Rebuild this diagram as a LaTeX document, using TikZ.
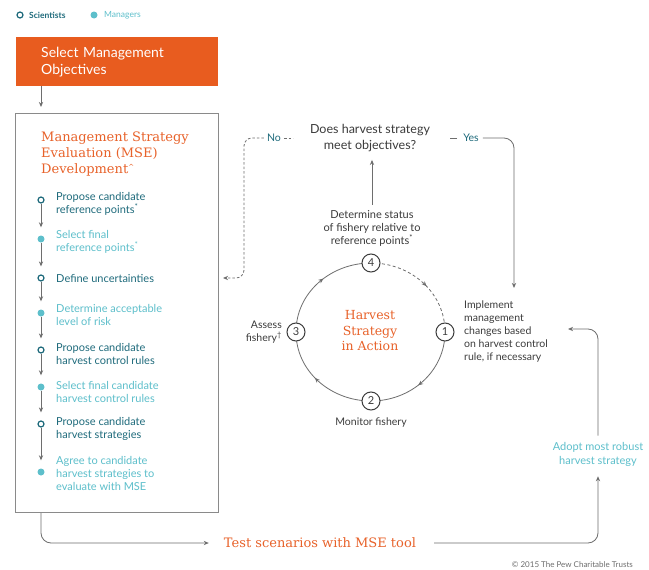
\documentclass[tikz,border=0pt]{standalone}
\usepackage{fontspec}
\setmainfont{Lato}
\newfontfamily\slab{DejaVu Serif}
\usetikzlibrary{arrows.meta,decorations.markings,backgrounds}
\pgfdeclarelayer{paper}
\pgfsetlayers{paper,background,main}
\definecolor{pewor}{HTML}{E85C1F}
\definecolor{titor}{HTML}{E8622A}
\definecolor{dteal}{HTML}{1F6B7C}
\definecolor{lteal}{HTML}{5DBFCB}
\definecolor{lgray}{HTML}{6E6E6E}
\definecolor{tgray}{HTML}{3C3C3C}
\definecolor{bgray}{HTML}{8A8A8A}
\tikzset{
  x=1pt, y=1pt,
  tip/.style={-{Stealth[length=5pt,width=4.2pt]}},
  ln/.style={draw=lgray, line width=0.8pt},
  arr/.style={ln, tip},
  dline/.style={ln, dash pattern=on 2.5pt off 2pt},
  sci/.style={circle, draw=dteal, line width=1.2pt, fill=white, minimum size=6pt, inner sep=0pt},
  mgr/.style={circle, fill=lteal, minimum size=7pt, inner sep=0pt},
  tl/.style={arr, shorten >=8pt},
  scitxt/.style={anchor=west, text=dteal, align=left, inner sep=0pt, font=\fontsize{11}{13}\selectfont},
  mgrtxt/.style={anchor=west, text=lteal, align=left, inner sep=0pt, font=\fontsize{11}{13}\selectfont},
  gtxt/.style={text=tgray, inner sep=0pt, font=\fontsize{10.5}{13}\selectfont},
  num/.style={circle, draw=tgray, line width=1pt, fill=white, minimum size=18pt, inner sep=0pt, text=tgray, font=\fontsize{11}{13}\selectfont},
  orbox/.style={fill=pewor, text=white, anchor=north west, minimum width=202pt, minimum height=49pt, text width=152pt, inner xsep=25pt, align=left, font=\fontsize{14}{17}\selectfont},
  msebx/.style={draw=bgray, line width=1.2pt, anchor=north west, minimum width=203pt, minimum height=399pt, inner sep=0pt},
  slabtxt/.style={text=titor, inner sep=0pt, font=\slab\fontsize{12.5}{15.5}\selectfont},
  cyc/.style={ln, decoration={markings, mark=at position 0.55 with {\arrow{Stealth[length=5pt,width=4.2pt]}}}, postaction=decorate}
}
\begin{document}
\begin{tikzpicture}
\useasboundingbox (0,0) rectangle (649,-570);
\begin{pgfonlayer}{paper}
\fill[white] (0,0) rectangle (649,-570);
\end{pgfonlayer}

% legend
\node[sci] (lsci) at (20,-15) {};
\node[anchor=west, text=dteal, inner sep=0pt, font=\fontsize{8.5}{10}\selectfont\bfseries] (lscit) at (29,-15) {Scientists};
\node[mgr] (lmgr) at (94,-15) {};
\node[anchor=west, text=lteal, inner sep=0pt, font=\fontsize{8.5}{10}\selectfont] (lmgrt) at (104,-15) {Managers};

% orange box
\node[orbox] (smo) at (16,-37) {Select Management\\Objectives};

% MSE box
\node[msebx] (msebox) at (15,-113) {};
\draw[arr] ([xshift=25pt]smo.south west) -- ([xshift=26pt,yshift=6pt]msebox.north west);

\node[slabtxt, anchor=west, align=left, font=\slab\fontsize{13}{16}\selectfont] (msetitle) at (41,-154)
  {Management Strategy\\Evaluation (MSE)\\Development\textsuperscript{\fontsize{7}{7}\selectfont\textasciicircum}};

% timeline
\node[sci] (c1) at (41,-200) {};
\node[mgr] (c2) at (41,-239) {};
\node[sci] (c3) at (41,-278) {};
\node[mgr] (c4) at (41,-313) {};
\node[sci] (c5) at (41,-350) {};
\node[mgr] (c6) at (41,-387) {};
\node[sci] (c7) at (41,-424) {};
\node[mgr] (c8) at (41,-472) {};
\foreach \a/\b in {c1/c2,c2/c3,c3/c4,c4/c5,c5/c6,c6/c7,c7/c8}
  \draw[tl] (\a) -- (\b);

\node[scitxt] (t1) at (56,-203.5) {Propose candidate\\reference points\textsuperscript{*}};
\node[mgrtxt] (t2) at (56,-241.5) {Select final\\reference points\textsuperscript{*}};
\node[scitxt] (t3) at (56,-278) {Define uncertainties};
\node[mgrtxt] (t4) at (56,-314.5) {Determine acceptable\\level of risk};
\node[scitxt] (t5) at (56,-353.5) {Propose candidate\\harvest control rules};
\node[mgrtxt] (t6) at (56,-392) {Select final candidate\\harvest control rules};
\node[scitxt] (t7) at (56,-429) {Propose candidate\\harvest strategies};
\node[mgrtxt] (t8) at (56,-473) {Agree to candidate\\harvest strategies to\\evaluate with MSE};

% question
\node[text=tgray, inner sep=0pt, align=center, font=\fontsize{12.5}{16}\selectfont] (q) at (370,-138)
  {Does harvest strategy\\meet objectives?};
\node[text=dteal, inner sep=0pt, font=\fontsize{10.5}{12}\selectfont] (no) at (274,-138) {No};
\node[text=dteal, inner sep=0pt, font=\fontsize{10.5}{12}\selectfont] (yes) at (471,-138) {Yes};
\coordinate (duin) at (223,-278);
\draw[dline, tip, rounded corners=8pt] ([xshift=-3pt]no.west) -| (244,-278) -- (duin);
\draw[dline] ([xshift=3pt]no.east) -- ++(9,0);
\draw[ln] ([xshift=-6pt]yes.west) -- ++(-7,0);
\coordinate (implin) at (514,-288);
\draw[arr, rounded corners=10pt] ([xshift=4pt]yes.east) -| (implin);

% cycle
\node[num] (n4) at (371,-263) {4};
\node[num] (n1) at (445,-332) {1};
\node[num] (n2) at (371,-401) {2};
\node[num] (n3) at (296,-332) {3};
\begin{scope}[on background layer]
\draw[cyc, dash pattern=on 3pt off 2.5pt] (n4.center) to[out=0,in=90] (n1.center);
\draw[cyc] (n1.center) to[out=-90,in=0] (n2.center);
\draw[cyc] (n2.center) to[out=180,in=-90] (n3.center);
\draw[cyc] (n3.center) to[out=90,in=180] (n4.center);
\end{scope}
\node[slabtxt, align=center] (hsa) at (370,-331) {Harvest\\Strategy\\in Action};

\node[gtxt, align=center, font=\fontsize{11}{13}\selectfont] (det) at (372,-228)
  {Determine status\\of fishery relative to\\reference points\textsuperscript{*}};
\draw[arr] ([yshift=5pt]det.north) -- ([yshift=-8pt]q.south -| det.north);
\node[gtxt, anchor=east, align=right] (assess) at (282,-332) {Assess\\fishery\textsuperscript{†}};
\node[gtxt] (mon) at (371,-423) {Monitor fishery};
\node[gtxt, anchor=west, align=left] (impl) at (464,-331.5)
  {Implement\\management\\changes based\\on harvest control\\rule, if necessary};

% adopt
\node[text=lteal, inner sep=0pt, align=center, font=\fontsize{11}{14}\selectfont] (adopt) at (598,-454)
  {Adopt most robust\\harvest strategy};
\coordinate (adin) at (568,-329);
\draw[arr, rounded corners=10pt] ([yshift=6pt]adopt.north) |- (adin);

% test
\node[slabtxt, font=\slab\fontsize{13}{15}\selectfont] (test) at (320,-543) {Test scenarios with MSE tool};
\draw[arr, rounded corners=10pt] (msebox.south -| c1) |- ([xshift=-15pt]test.west);
\draw[arr, rounded corners=10pt] ([xshift=18pt]test.east) -| ([yshift=-10pt]adopt.south);

\node[anchor=east, text=lgray, inner sep=0pt, font=\fontsize{8}{10}\selectfont] (copy) at (633,-565)
  {© 2015 The Pew Charitable Trusts};
\end{tikzpicture}
\end{document}
